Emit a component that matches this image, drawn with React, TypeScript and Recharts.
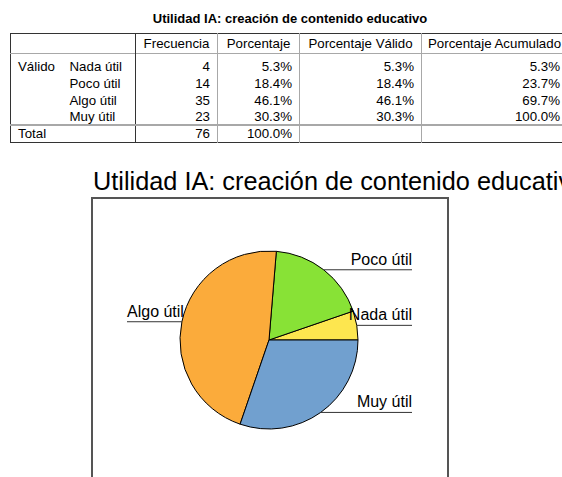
import React from 'react';
import { PieChart, Pie, Cell } from 'recharts';

const tableTitle = 'Utilidad IA: creación de contenido educativo';
const chartTitle = 'Utilidad IA: creación de contenido educativo';
const headers = ['Frecuencia', 'Porcentaje', 'Porcentaje Válido', 'Porcentaje Acumulado'];
const groupLabel = 'Válido';
const totalLabel = 'Total';
const categories = ['Nada útil', 'Poco útil', 'Algo útil', 'Muy útil'];
const frecuencia = [4, 14, 35, 23];
const porcentaje = ['5.3%', '18.4%', '46.1%', '30.3%'];
const porcentajeValido = ['5.3%', '18.4%', '46.1%', '30.3%'];
const porcentajeAcumulado = ['5.3%', '23.7%', '69.7%', '100.0%'];
const totalFrecuencia = 76;
const totalPorcentaje = '100.0%';
const sliceColors = ['#fde64f', '#88e236', '#fbab3b', '#71a0cf'];

const pieData = categories.map((name, i) => ({ name, value: frecuencia[i] }));

const FONT = '"Liberation Sans", Arial, Helvetica, sans-serif';
const DARK = '#333';
const GRAY = '#a8a8a8';

const colWidths = [52, 73, 82, 82, 122, 146];

const RADIAN = Math.PI / 180;
const LABEL_RIGHT = 143;
const LABEL_LEFT = 142;

const renderLabel = (props: any) => {
  const { cx, cy, midAngle, outerRadius, name } = props;
  const x0 = cx + outerRadius * Math.cos(-midAngle * RADIAN);
  const y0 = cy + outerRadius * Math.sin(-midAngle * RADIAN);
  const right = x0 >= cx;
  if (right) {
    const xe = cx + LABEL_RIGHT;
    return (
      <g key={name}>
        <line x1={x0} y1={y0} x2={xe} y2={y0} stroke="#333" strokeWidth={1} />
        <text x={xe} y={y0 - 5} textAnchor="end" fontSize={16} fontFamily={FONT} fill="#000">
          {name}
        </text>
      </g>
    );
  }
  const xs = cx - LABEL_LEFT;
  return (
    <g key={name}>
      <line x1={xs} y1={y0} x2={x0} y2={y0} stroke="#333" strokeWidth={1} />
      <text x={xs} y={y0 - 5} textAnchor="start" fontSize={16} fontFamily={FONT} fill="#000">
        {name}
      </text>
    </g>
  );
};

const cellBase: React.CSSProperties = {
  padding: '0 7px',
  whiteSpace: 'nowrap',
  overflow: 'hidden',
};

export default function App() {
  const vline = (c: number) =>
    c === 2 ? `1px solid ${DARK}` : c > 2 ? `1px solid ${GRAY}` : 'none';
  return (
    <div
      style={{
        position: 'absolute',
        left: 0,
        top: 0,
        width: 562,
        height: 477,
        overflow: 'hidden',
        background: '#fff',
        fontFamily: FONT,
      }}
    >
      <div
        style={{
          position: 'absolute',
          left: 10,
          width: 560,
          top: 11,
          textAlign: 'center',
          fontWeight: 'bold',
          fontSize: 13,
          lineHeight: '15px',
        }}
      >
        {tableTitle}
      </div>
      <table
        style={{
          position: 'absolute',
          left: 10,
          top: 33,
          borderCollapse: 'collapse',
          tableLayout: 'fixed',
          width: colWidths.reduce((a, b) => a + b, 0),
          fontSize: 13.3,
          border: `1.5px solid ${DARK}`,
        }}
      >
        <colgroup>
          {colWidths.map((w, i) => (
            <col key={i} style={{ width: w }} />
          ))}
        </colgroup>
        <tbody>
          <tr style={{ height: 20, borderBottom: `1.5px solid ${GRAY}` }}>
            <td style={cellBase}></td>
            <td style={cellBase}></td>
            {headers.map((h, i) => (
              <td key={h} style={{ ...cellBase, padding: '0 2px', textAlign: 'center', borderLeft: vline(i + 2) }}>
                {h}
              </td>
            ))}
          </tr>
          {categories.map((cat, r) => (
            <tr key={cat} style={{ height: r === 0 ? 20 : 17 }}>
              <td style={{ ...cellBase, verticalAlign: 'bottom' }}>{r === 0 ? groupLabel : ''}</td>
              <td style={{ ...cellBase, verticalAlign: 'bottom' }}>{cat}</td>
              {[String(frecuencia[r]), porcentaje[r], porcentajeValido[r], porcentajeAcumulado[r]].map((v, c) => (
                <td
                  key={c}
                  style={{ ...cellBase, verticalAlign: 'bottom', textAlign: 'right', borderLeft: vline(c + 2) }}
                >
                  {v}
                </td>
              ))}
            </tr>
          ))}
          <tr style={{ height: 18, borderTop: `2px solid ${GRAY}` }}>
            <td style={cellBase}>{totalLabel}</td>
            <td style={cellBase}></td>
            {[String(totalFrecuencia), totalPorcentaje, '', ''].map((v, c) => (
              <td key={c} style={{ ...cellBase, textAlign: 'right', borderLeft: vline(c + 2) }}>
                {v}
              </td>
            ))}
          </tr>
        </tbody>
      </table>

      <div
        style={{
          position: 'absolute',
          left: 93,
          top: 169,
          fontSize: 25.3,
          lineHeight: '24px',
          whiteSpace: 'nowrap',
          color: '#000',
        }}
      >
        {chartTitle}
      </div>
      <div
        style={{
          position: 'absolute',
          left: 91,
          top: 197,
          width: 354,
          height: 320,
          border: '2px solid #555',
        }}
      />
      <div style={{ position: 'absolute', left: 0, top: 0 }}>
        <PieChart width={562} height={477} margin={{ top: 0, right: 0, bottom: 0, left: 0 }}>
          <Pie
            data={pieData}
            dataKey="value"
            nameKey="name"
            cx={269}
            cy={340}
            outerRadius={89}
            startAngle={0}
            endAngle={360}
            stroke="#000"
            strokeWidth={1}
            label={renderLabel}
            labelLine={false}
            isAnimationActive={false}
          >
            {pieData.map((d, i) => (
              <Cell key={d.name} fill={sliceColors[i]} />
            ))}
          </Pie>
        </PieChart>
      </div>
    </div>
  );
}
